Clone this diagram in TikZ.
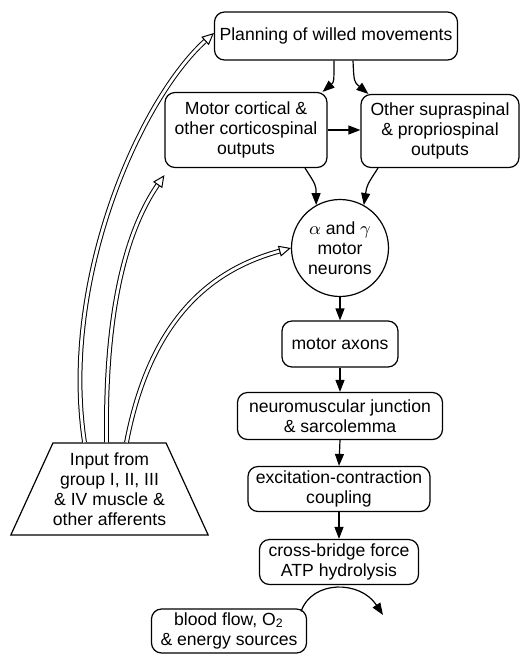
\documentclass[tikz,border=0pt]{standalone}
\usepackage{fontspec}
\setmainfont{Liberation Sans}
\usetikzlibrary{arrows.meta,shapes.geometric}

\begin{document}
\begin{tikzpicture}[x=0.5pt,y=-0.5pt,line width=0.6pt,
   font=\fontsize{8.8}{10}\selectfont,
   box/.style={draw,rounded corners=5pt,align=center,inner sep=0pt},
   flow/.style={-{Triangle[length=6pt,width=4.5pt]}},
   afferent/.style={double,double distance=1.4pt,line width=0.5pt,-{Triangle[open,length=6pt,width=5.5pt]}}]
       \useasboundingbox (0,0) rectangle (520,655);
       % Draw the boxes
       \node[box,minimum width=121.5pt,minimum height=24pt] (plan) at (336,36) {Planning of willed movements};
       \node[box,minimum width=81pt,minimum height=37.5pt] (motor) at (246,130) {Motor cortical \&\\other corticospinal\\outputs};
       \node[box,minimum width=79pt,minimum height=36.5pt] (supra) at (440,131) {Other supraspinal\\\& propriospinal\\outputs};
       \node[draw,circle,minimum size=48.5pt,inner sep=0pt,align=center] (mn) at (340,248) {$\alpha$ and $\gamma$\\motor\\neurons};
       \node[box,minimum width=58pt,minimum height=23pt] (axons) at (340,344) {motor axons};
       \node[box,minimum width=102.5pt,minimum height=23.5pt] (nmj) at (340,416) {neuromuscular junction\\\& sarcolemma};
       \node[box,minimum width=91pt,minimum height=22.5pt] (ecc) at (339,489) {excitation-contraction\\coupling};
       \node[box,minimum width=79.5pt,minimum height=22.5pt] (xbridge) at (339,562) {cross-bridge force\\ATP hydrolysis};
       \node[box,minimum width=77.5pt,minimum height=22pt] (blood) at (229,631) {blood flow, O\textsubscript{2}\\\& energy sources};
       \node[draw,trapezium,trapezium stretches=true,minimum width=97.5pt,minimum height=46pt,align=center,inner sep=0pt] (input) at (109.5,489) {Input from\\group I, II, III\\\& IV muscle \&\\other afferents};
       \coordinate (tip) at (383,615);

       % Draw the single arrows
       \draw[flow] ([xshift=-1pt]plan.south) .. controls (334,82) .. ([xshift=-2.5pt]motor.north east);
       \draw[flow] ([xshift=8.5pt]plan.south) .. controls (354,82) .. ([xshift=4pt]supra.north west);
       \draw[flow] (motor.east) -- (motor.east -| supra.west);
       \draw[flow] ([xshift=29.5pt]motor.south) .. controls (316,185) .. (mn.119);
       \draw[flow] ([xshift=-31pt]supra.south) .. controls (367,185) .. (mn.61);
       \draw[flow] (mn.south) -- (axons.north);
       \draw[flow] (axons.south) -- (nmj.north);
       \draw[flow] (nmj.south) -- (ecc.north);
       \draw[flow] (ecc.south) -- (xbridge.north);
       \draw[flow] ([xshift=-3pt,yshift=-1.5pt]blood.north east) .. controls (312,580) and (360,580) .. (tip);

       % Draw the afferent inputs
       \draw[afferent] ([xshift=-12.5pt]input.north) .. controls (60,280) and (140,100) .. ([yshift=1.5pt]plan.west);
       \draw[afferent] ([xshift=-1.5pt]input.north) .. controls (105,330) and (120,240) .. ([yshift=-3.5pt]motor.south west);
       \draw[afferent] ([xshift=8.5pt]input.north) .. controls (150,320) and (210,270) .. (mn.west);
   \end{tikzpicture}
\end{document}
